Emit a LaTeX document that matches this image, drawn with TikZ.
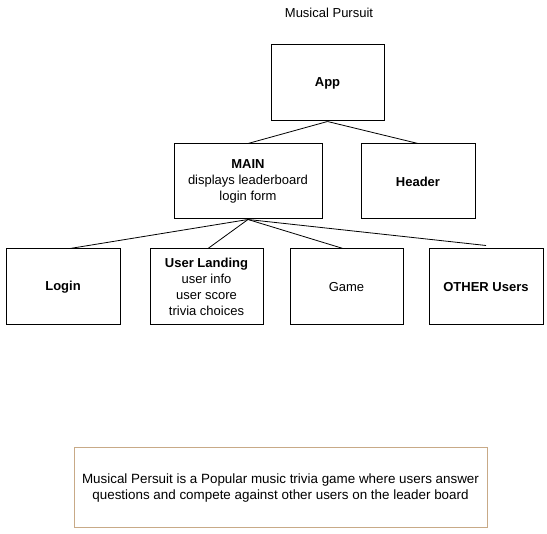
\documentclass[tikz,border=0pt]{standalone}
\usepackage{fontspec}
\setmainfont{Liberation Sans}
\definecolor{tanline}{RGB}{200,170,135}
\begin{document}
\begin{tikzpicture}[x=1pt,y=-1pt,
  box/.style={draw=black,line width=1pt,rectangle,inner sep=0pt,align=center,font=\fontsize{13}{16}\selectfont},
  link/.style={draw=black,line width=0.8pt},
  every node/.style={font=\fontsize{13}{16}\selectfont}]
\useasboundingbox (0,0) rectangle (547,534);
\node (title) at (329,13) {Musical Pursuit};
\node[box,minimum width=113pt,minimum height=76pt] (app) at (327.5,83) {\textbf{App}};
\node[box,minimum width=148pt,minimum height=75pt] (main) at (248,181.5) {\textbf{MAIN}\\displays leaderboard\\login form};
\node[box,minimum width=114pt,minimum height=75pt] (header) at (418,181.5) {\textbf{Header}};
\node[box,minimum width=114pt,minimum height=76pt] (login) at (63,287) {\textbf{Login}};
\node[box,minimum width=113pt,minimum height=76pt] (landing) at (206.5,287) {\textbf{User Landing}\\user info\\user score\\trivia choices};
\node[box,minimum width=113pt,minimum height=76pt] (game) at (346.5,287) {Game};
\node[box,minimum width=114pt,minimum height=76pt] (other) at (486,287) {\textbf{OTHER Users}};
\node[box,draw=tanline,minimum width=413pt,minimum height=80pt,font=\fontsize{13.4}{16}\selectfont] (desc) at (280.5,488) {Musical Persuit is a Popular music trivia game where users answer\\questions and compete against other users on the leader board};
\coordinate (loginend) at ([xshift=7pt]login.north);
\coordinate (landingend) at ([xshift=1.5pt]landing.north);
\coordinate (gameend) at ([xshift=-3.5pt]game.north);
\coordinate (otherend) at ([yshift=3pt]other.north);
\draw[link] (app.south) -- (main.north);
\draw[link] (app.south) -- (header.north);
\draw[link] (main.south) -- (loginend);
\draw[link] (main.south) -- (landingend);
\draw[link] (main.south) -- (gameend);
\draw[link] (main.south) -- (otherend);
\end{tikzpicture}
\end{document}
